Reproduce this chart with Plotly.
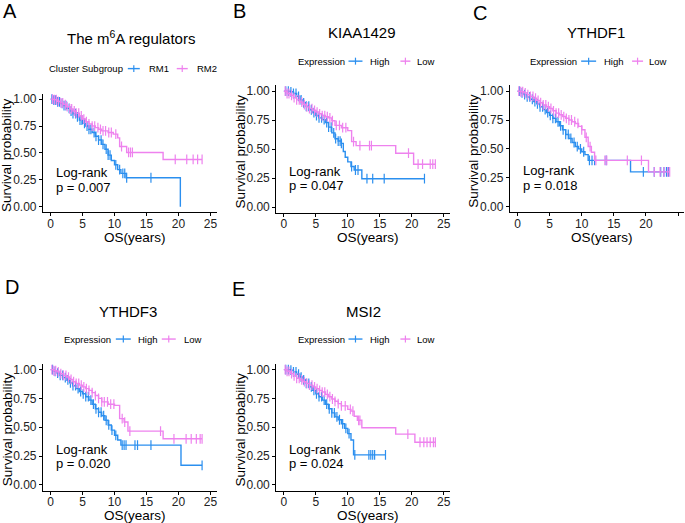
import numpy as np
import plotly.graph_objects as go

W, H = 685, 523
BLUE = "#2B8FEF"
PINK = "#EE82EE"
FONT = "Liberation Sans, Arial, sans-serif"

# ---------------- data ----------------
# Panel A: The m6A regulators (RM1 blue, RM2 pink)
A1_t = [0, 0.5, 1, 1.5, 2, 2.5, 3, 3.5, 4, 4.5, 5, 5.5, 6, 6.5, 7, 7.5, 8, 8.5, 9, 9.5, 10, 10.5, 11, 11.8, 20.3]
A1_s = [1.0, 0.99, 0.975, 0.96, 0.94, 0.915, 0.89, 0.865, 0.835, 0.805, 0.775, 0.75, 0.72, 0.69, 0.655, 0.62, 0.58, 0.535, 0.48, 0.43, 0.39, 0.345, 0.31, 0.27, 0.0]
A1_c = [0.2, 0.5, 0.8, 1.1, 1.4, 1.8, 2.1, 2.4, 2.9, 3.2, 3.5, 3.9, 4.2, 4.6, 4.9, 5.3, 5.7, 6.0, 6.3, 6.8, 7.1, 7.5, 7.9, 8.2, 8.7, 9.0, 9.3, 10.2, 10.8, 11.3, 11.6, 11.9, 15.7]
A2_t = [0, 0.5, 1, 1.5, 2, 2.5, 3, 3.5, 4, 4.5, 5, 5.5, 6, 6.5, 7, 7.5, 8, 9, 9.8, 10.5, 10.8, 11.9, 17.6, 23.7]
A2_s = [1.0, 0.995, 0.98, 0.965, 0.95, 0.93, 0.91, 0.89, 0.87, 0.845, 0.815, 0.79, 0.77, 0.75, 0.735, 0.72, 0.705, 0.69, 0.675, 0.64, 0.56, 0.505, 0.44, 0.44]
A2_c = [0.3, 0.6, 0.9, 1.2, 1.6, 1.9, 2.3, 2.6, 3.0, 3.3, 3.7, 4.0, 4.4, 4.8, 5.2, 5.6, 6.0, 6.5, 6.9, 7.4, 7.8, 8.2, 8.6, 9.1, 9.5, 10.2, 11.1, 12.2, 12.5, 12.8, 19.5, 21.3, 22.3, 23.0, 23.7]

# Panel B: KIAA1429
B1_t = [0, 1, 1.5, 2, 2.5, 3, 3.5, 4, 4.5, 5, 5.5, 6, 6.5, 7, 7.5, 8, 8.5, 9, 9.3, 9.6, 10, 10.5, 11, 12.2, 22.0]
B1_s = [1.0, 0.995, 0.98, 0.955, 0.925, 0.9, 0.87, 0.84, 0.815, 0.79, 0.77, 0.755, 0.73, 0.69, 0.64, 0.59, 0.57, 0.55, 0.48, 0.43, 0.39, 0.35, 0.32, 0.245, 0.245]
B1_c = [0.3, 0.7, 1.1, 1.5, 1.9, 2.3, 2.7, 3.1, 3.5, 3.9, 4.3, 4.7, 5.1, 5.5, 5.9, 6.3, 6.7, 7.0, 7.4, 7.8, 8.1, 8.5, 8.8, 9.0, 10.6, 11.2, 11.6, 13.0, 13.9, 15.7, 22.0]
B2_t = [0, 0.5, 1, 1.5, 2, 2.5, 3, 3.5, 4, 4.5, 5, 5.5, 6, 6.5, 7, 7.5, 8, 9, 10, 10.6, 11.3, 17.5, 20.3, 23.7]
B2_s = [1.0, 0.98, 0.965, 0.945, 0.925, 0.905, 0.885, 0.865, 0.85, 0.835, 0.82, 0.805, 0.79, 0.78, 0.77, 0.745, 0.705, 0.685, 0.66, 0.565, 0.53, 0.465, 0.37, 0.37]
B2_c = [0.2, 0.5, 0.8, 1.2, 1.6, 2.0, 2.4, 2.8, 3.2, 3.6, 4.0, 4.4, 4.8, 5.2, 5.6, 6.0, 6.4, 6.8, 7.2, 7.6, 8.2, 8.7, 9.2, 9.7, 10.9, 11.9, 13.4, 13.7, 19.5, 21.0, 21.7, 22.9, 23.3, 23.7]

# Panel C: YTHDF1
C1_t = [0, 0.5, 1, 1.5, 2, 2.5, 3, 3.5, 4, 4.5, 5, 5.5, 6, 6.5, 7, 7.5, 8, 8.5, 9, 9.5, 10, 10.5, 11, 17.6, 23.5]
C1_s = [1.0, 0.985, 0.97, 0.95, 0.93, 0.91, 0.89, 0.865, 0.84, 0.815, 0.79, 0.765, 0.735, 0.7, 0.665, 0.625, 0.59, 0.555, 0.52, 0.5, 0.475, 0.45, 0.40, 0.30, 0.30]
C1_c = [0.3, 0.7, 1.1, 1.5, 1.9, 2.3, 2.7, 3.1, 3.5, 3.9, 4.3, 4.7, 5.1, 5.5, 5.9, 6.3, 6.7, 7.1, 7.5, 7.9, 8.3, 8.8, 9.3, 9.8, 10.3, 11.2, 11.6, 12.0, 13.8, 19.6, 21.3, 22.3, 22.8, 23.2, 23.5]
C2_t = [0, 0.5, 1, 1.5, 2, 2.5, 3, 3.5, 4, 4.5, 5, 5.5, 6, 6.5, 7, 7.5, 8, 8.5, 9, 9.5, 10, 10.5, 11, 11.5, 12, 20.4, 23.7]
C2_s = [1.0, 0.995, 0.985, 0.97, 0.955, 0.94, 0.92, 0.9, 0.88, 0.865, 0.85, 0.83, 0.81, 0.795, 0.78, 0.765, 0.75, 0.735, 0.72, 0.695, 0.665, 0.6, 0.52, 0.47, 0.40, 0.30, 0.30]
C2_c = [0.2, 0.5, 0.8, 1.2, 1.6, 2.0, 2.4, 2.8, 3.2, 3.6, 4.0, 4.4, 4.8, 5.2, 5.6, 6.0, 6.4, 6.8, 7.2, 7.6, 8.0, 8.4, 8.9, 9.4, 10.0, 10.7, 11.3, 12.2, 13.6, 13.9, 17.1, 19.3, 21.3, 22.2, 22.8, 23.4, 23.7]

# Panel D: YTHDF3
D1_t = [0, 0.5, 1, 1.5, 2, 2.5, 3, 3.5, 4, 4.5, 5, 5.5, 6, 6.5, 7, 7.5, 8, 8.5, 9, 9.5, 10, 10.5, 11, 20.4, 23.7]
D1_s = [1.0, 0.985, 0.97, 0.95, 0.93, 0.91, 0.885, 0.86, 0.835, 0.81, 0.79, 0.765, 0.735, 0.7, 0.66, 0.63, 0.6, 0.56, 0.52, 0.475, 0.43, 0.39, 0.345, 0.17, 0.17]
D1_c = [0.3, 0.7, 1.1, 1.5, 1.9, 2.3, 2.7, 3.1, 3.5, 3.9, 4.3, 4.7, 5.1, 5.5, 5.9, 6.3, 6.7, 7.1, 7.5, 7.9, 8.3, 8.7, 9.1, 9.6, 10.2, 11.2, 11.5, 11.8, 13.2, 13.6, 15.7, 23.7]
D2_t = [0, 0.5, 1, 1.5, 2, 2.5, 3, 3.5, 4, 4.5, 5, 5.5, 6, 6.5, 7, 7.5, 8, 9, 10, 10.8, 11.5, 12.1, 17.6, 23.7]
D2_s = [1.0, 0.99, 0.98, 0.965, 0.95, 0.935, 0.915, 0.895, 0.88, 0.865, 0.85, 0.835, 0.82, 0.8, 0.775, 0.75, 0.72, 0.7, 0.69, 0.575, 0.545, 0.466, 0.40, 0.40]
D2_c = [0.2, 0.5, 0.8, 1.2, 1.6, 2.0, 2.4, 2.8, 3.2, 3.6, 4.0, 4.4, 4.8, 5.2, 5.6, 6.0, 6.5, 7.0, 7.5, 8.0, 8.4, 8.9, 9.4, 9.9, 11.2, 11.6, 12.4, 17.2, 19.3, 21.2, 22.0, 22.8, 23.4, 23.7]

# Panel E: MSI2
E1_t = [0, 1, 1.5, 2, 2.5, 3, 3.5, 4, 4.5, 5, 5.5, 6, 6.5, 7, 7.5, 8, 8.5, 9, 9.5, 10, 10.5, 10.9, 15.9]
E1_s = [1.0, 0.995, 0.98, 0.96, 0.935, 0.91, 0.88, 0.85, 0.82, 0.79, 0.765, 0.735, 0.7, 0.66, 0.625, 0.59, 0.565, 0.53, 0.49, 0.445, 0.39, 0.26, 0.26]
E1_c = [0.3, 0.7, 1.1, 1.5, 1.9, 2.3, 2.7, 3.1, 3.5, 3.9, 4.3, 4.7, 5.1, 5.5, 5.9, 6.3, 6.7, 7.1, 7.5, 7.9, 8.3, 8.7, 9.2, 9.7, 10.2, 11.1, 13.3, 13.6, 13.9, 14.2, 15.9]
E2_t = [0, 0.5, 1, 1.5, 2, 2.5, 3, 3.5, 4, 4.5, 5, 5.5, 6, 6.5, 7, 7.5, 8, 8.5, 9, 10, 10.5, 11, 11.5, 12.2, 17.5, 20.5, 23.7]
E2_s = [1.0, 0.985, 0.965, 0.945, 0.925, 0.91, 0.895, 0.88, 0.865, 0.85, 0.835, 0.82, 0.805, 0.785, 0.765, 0.745, 0.725, 0.705, 0.685, 0.655, 0.64, 0.595, 0.56, 0.495, 0.44, 0.37, 0.37]
E2_c = [0.2, 0.5, 0.8, 1.2, 1.6, 2.0, 2.4, 2.8, 3.2, 3.6, 4.0, 4.4, 4.8, 5.2, 5.6, 6.0, 6.4, 6.8, 7.2, 7.6, 8.0, 8.5, 9.0, 9.6, 10.4, 10.8, 11.7, 11.9, 19.4, 21.3, 21.9, 22.4, 22.9, 23.4, 23.7]

titles = ["The m<sup>6</sup>A regulators", "KIAA1429", "YTHDF1", "YTHDF3", "MSI2"]
letters = ["A", "B", "C", "D", "E"]
legend_titles = ["Cluster Subgroup", "Expression", "Expression", "Expression", "Expression"]
legend_labels = [["RM1", "RM2"], ["High", "Low"], ["High", "Low"], ["High", "Low"], ["High", "Low"]]
pvals = ["p = 0.007", "p = 0.047", "p = 0.018", "p = 0.020", "p = 0.024"]
x_ticks = [0, 5, 10, 15, 20, 25]
y_ticks = [0, 0.25, 0.5, 0.75, 1.0]
y_ticklabels = ["0.00", "0.25", "0.50", "0.75", "1.00"]

curves = [
    [(A1_t, A1_s, A1_c), (A2_t, A2_s, A2_c)],
    [(B1_t, B1_s, B1_c), (B2_t, B2_s, B2_c)],
    [(C1_t, C1_s, C1_c), (C2_t, C2_s, C2_c)],
    [(D1_t, D1_s, D1_c), (D2_t, D2_s, D2_c)],
    [(E1_t, E1_s, E1_c), (E2_t, E2_s, E2_c)],
]

# ---------------- layout (pixel geometry) ----------------
areas = [
    (43.0, 217.1, 93.3, 212.4),
    (276.6, 450.7, 84.9, 213.1),
    (510.6, 685.0, 84.9, 212.5),
    (43.0, 217.1, 364.9, 492.5),
    (276.6, 450.7, 364.9, 492.5),
]
xranges = [[-1.2, 26], [-1.2, 26], [-1.2, 25.93], [-1.2, 26], [-1.2, 26]]
title_pos = [(131, 37), (363, 32), (597, 32), (128, 312), (364, 312)]
letter_pos = [(1, 10), (231, 10), (472, 12), (3, 288), (230, 290)]
logrank_y = [(0.318, 0.18), (0.31, 0.185), (0.31, 0.185), (0.31, 0.185), (0.31, 0.185)]
legend_pos = [
    (47, (128, 140), 147, (177, 188), 195, 68),
    (296, (349, 363), 369, (401, 411), 416, 60.5),
    (529, (582, 597), 603, (633, 644), 648, 60.5),
    (62, (116, 131), 136, (162, 176), 182, 340),
    (296, (349, 363), 369, (401, 411), 416, 340),
]


def px(x):
    return x / W


def py(y):
    return 1 - y / H


def step_at(t, s, c):
    t = np.asarray(t)
    s = np.asarray(s)
    idx = np.searchsorted(t, np.asarray(c), side="right") - 1
    return s[idx]


fig = go.Figure()
annotations = []
shapes = []
colors = [BLUE, PINK]

for i in range(5):
    xa = "x" if i == 0 else f"x{i+1}"
    ya = "y" if i == 0 else f"y{i+1}"
    for j, (t, s, c) in enumerate(curves[i]):
        fig.add_trace(go.Scatter(x=t, y=s, mode="lines", line=dict(color=colors[j], width=1.4, shape="hv"),
                                 xaxis=xa, yaxis=ya, showlegend=False, hoverinfo="skip"))
        fig.add_trace(go.Scatter(x=c, y=step_at(t, s, c), mode="markers",
                                 marker=dict(symbol="line-ns", size=7, line=dict(color=colors[j], width=1.2)),
                                 xaxis=xa, yaxis=ya, showlegend=False, hoverinfo="skip"))
    l, r, tp, bt = areas[i]
    axis_common = dict(showline=True, linecolor="black", linewidth=1, ticks="outside", ticklen=3,
                       tickcolor="black", tickwidth=1, showgrid=False, zeroline=False,
                       tickfont=dict(family=FONT, size=12, color="#222222"), fixedrange=True)
    fig.layout[("xaxis" if i == 0 else f"xaxis{i+1}")] = dict(
        domain=[px(l), px(r)], range=xranges[i], anchor=ya, tickvals=x_ticks,
        ticklabelstandoff=-3, **axis_common)
    fig.layout[("yaxis" if i == 0 else f"yaxis{i+1}")] = dict(
        domain=[py(bt), py(tp)], range=[-0.05, 1.05], anchor=xa, tickvals=y_ticks,
        ticktext=y_ticklabels, **axis_common)

    ly_a, ly_b = logrank_y[i]
    annotations.append(dict(x=0.55, y=ly_a, xref=xa, yref=ya, text="Log-rank", showarrow=False,
                            xanchor="left", yanchor="middle", font=dict(family=FONT, size=13, color="black")))
    annotations.append(dict(x=0.55, y=ly_b, xref=xa, yref=ya, text=pvals[i], showarrow=False,
                            xanchor="left", yanchor="middle", font=dict(family=FONT, size=13, color="black")))
    annotations.append(dict(x=px((l + r) / 2 + 5), y=py(bt + 25), xref="paper", yref="paper", text="OS(years)",
                            showarrow=False, xanchor="center", yanchor="middle",
                            font=dict(family=FONT, size=13.5, color="black")))
    annotations.append(dict(x=px(l - 36), y=py((tp + bt) / 2 + 2), xref="paper", yref="paper",
                            text="Survival probability", textangle=-90, showarrow=False,
                            xanchor="center", yanchor="middle", font=dict(family=FONT, size=13.5, color="black")))
    tx, ty = title_pos[i]
    annotations.append(dict(x=px(tx), y=py(ty), xref="paper", yref="paper", text=titles[i], showarrow=False,
                            xanchor="center", yanchor="middle", font=dict(family=FONT, size=15, color="black")))
    lx, ly = letter_pos[i]
    annotations.append(dict(x=px(lx), y=py(ly), xref="paper", yref="paper", text=letters[i], showarrow=False,
                            xanchor="left", yanchor="middle", font=dict(family=FONT, size=20, color="black")))
    t0, k1, l1, k2, l2, ly2 = legend_pos[i]
    annotations.append(dict(x=px(t0), y=py(ly2), xref="paper", yref="paper", text=legend_titles[i],
                            showarrow=False, xanchor="left", yanchor="middle",
                            font=dict(family=FONT, size=9.5, color="black")))
    for (kx, lab_x, lab, col) in [(k1, l1, legend_labels[i][0], BLUE), (k2, l2, legend_labels[i][1], PINK)]:
        shapes.append(dict(type="line", xref="paper", yref="paper", x0=px(kx[0]), x1=px(kx[1]),
                           y0=py(ly2), y1=py(ly2), line=dict(color=col, width=1.4)))
        cx = (kx[0] + kx[1]) / 2
        shapes.append(dict(type="line", xref="paper", yref="paper", x0=px(cx), x1=px(cx),
                           y0=py(ly2 - 3.5), y1=py(ly2 + 3.5), line=dict(color=col, width=1.2)))
        annotations.append(dict(x=px(lab_x), y=py(ly2), xref="paper", yref="paper", text=lab,
                                showarrow=False, xanchor="left", yanchor="middle",
                                font=dict(family=FONT, size=9.5, color="black")))

fig.update_layout(width=W, height=H, margin=dict(l=0, r=0, t=0, b=0), paper_bgcolor="white",
                  plot_bgcolor="white", showlegend=False, annotations=annotations, shapes=shapes,
                  font=dict(family=FONT))
fig.write_html("out.html", config={"displayModeBar": False},
               post_script="document.body.style.margin='0';document.body.style.overflow='hidden';")
